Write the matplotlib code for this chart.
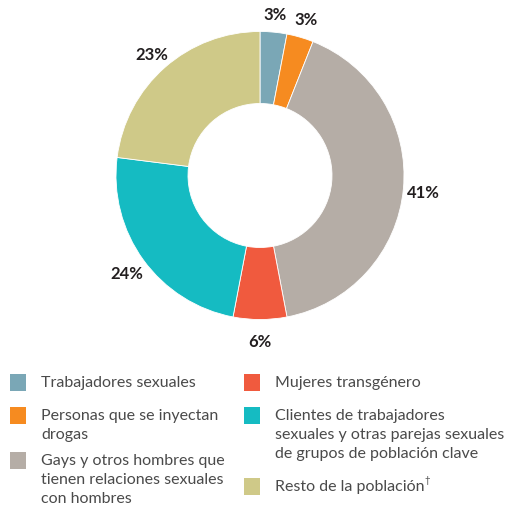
import matplotlib
matplotlib.use("Agg")
import matplotlib.pyplot as plt
import numpy as np
from matplotlib.patches import Rectangle

categories = ["Trabajadores sexuales", "Personas que se inyectan drogas",
              "Gays y otros hombres que tienen relaciones sexuales con hombres",
              "Mujeres transgénero",
              "Clientes de trabajadores sexuales y otras parejas sexuales de grupos de población clave",
              "Resto de la población"]
values = [3, 3, 41, 6, 24, 23]
pct_labels = ["3%", "3%", "41%", "6%", "24%", "23%"]
colors = ["#7AA7B6", "#F68B20", "#B5ADA6", "#F05A3E", "#15BBC2", "#CFC988"]
legend_lines = [
    ["Trabajadores sexuales"],
    ["Personas que se inyectan", "drogas"],
    ["Gays y otros hombres que", "tienen relaciones sexuales", "con hombres"],
    ["Mujeres transgénero"],
    ["Clientes de trabajadores", "sexuales y otras parejas sexuales", "de grupos de población clave"],
    ["Resto de la población"],
]

W, H = 508, 506
fig = plt.figure(figsize=(W / 100, H / 100), dpi=100)
plt.rcParams['font.family'] = ['Lato', 'DejaVu Sans']

cx, cy, R = 260, 176.5, 144
ax = fig.add_axes([(cx - R) / W, 1 - (cy + R) / H, 2 * R / W, 2 * R / H])

wedges, _ = ax.pie(values, colors=colors, startangle=90, counterclock=False, radius=1,
                   wedgeprops=dict(width=0.5, edgecolor='white', linewidth=0.6))
ax.set_xlim(-1, 1)
ax.set_ylim(-1, 1)
ax.set_aspect('equal')
ax.axis('off')
for w, lab in zip(wedges, pct_labels):
    ang = np.deg2rad((w.theta1 + w.theta2) / 2)
    r = 1.14
    ax.text(r * np.cos(ang), r * np.sin(ang), lab, ha='center', va='center_baseline',
            fontsize=12, fontweight='bold', color='#231F20', clip_on=False)

def fx(x):
    return x / W

def fy(y):
    return 1 - y / H

text_color = '#4A4A4A'
line_h = 19
items = [
    (10, 41, 383, 0),
    (10, 41, 416, 1),
    (10, 41, 461, 2),
    (244, 275, 383, 3),
    (244, 275, 416, 4),
    (244, 275, 487, 5),
]
for sx, tx, y0, i in items:
    fig.patches.append(Rectangle((fx(sx), fy(y0 + 8.5)), 16 / W, 17 / H,
                                 transform=fig.transFigure, facecolor=colors[i],
                                 edgecolor='none'))
    for k, line in enumerate(legend_lines[i]):
        fig.text(fx(tx), fy(y0 + k * line_h), line, ha='left', va='center',
                 fontsize=11.5, color=text_color)

fig.text(fx(424), fy(481), "\u2020", ha='left', va='center', fontsize=7, color=text_color)

fig.savefig("out.png", dpi=100)
